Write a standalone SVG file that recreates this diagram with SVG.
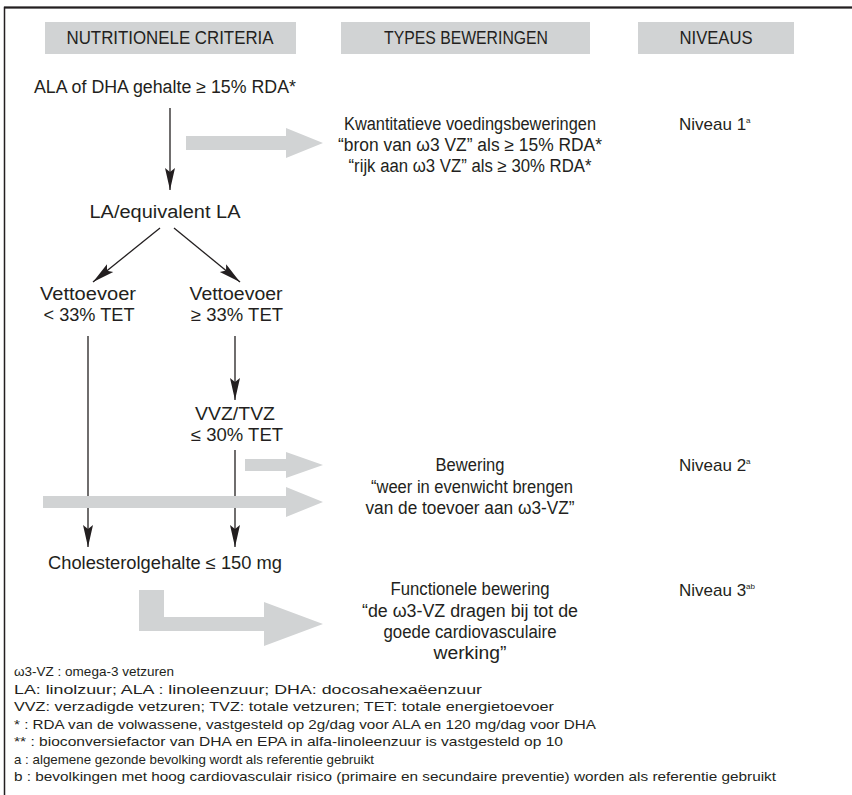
<svg xmlns="http://www.w3.org/2000/svg" width="852" height="795" viewBox="0 0 852 795">
<style>
text{font-family:"Liberation Sans",Arial,sans-serif;fill:#231f20;}
.t{font-size:18px;text-anchor:middle;}
.h{font-size:18px;text-anchor:middle;}
.nv{font-size:17px;}
.sp{font-size:8px;}
.f{font-size:13.5px;}
.hb{fill:#d1d3d4;}
.ln{stroke:#231f20;stroke-width:1.3;fill:none;}
.g{fill:#d1d3d4;}
</style>
<defs>
<marker id="ah" markerUnits="userSpaceOnUse" markerWidth="26" markerHeight="14" refX="22" refY="6" orient="auto" viewBox="0 0 26 12">
<path d="M0,1 L22,6 L0,11 L4,6 Z" fill="#231f20"/>
</marker>
</defs>
<rect x="4.5" y="7.5" width="1000" height="900" fill="none" stroke="#231f20" stroke-width="1.5"/>
<line x1="4" y1="7.5" x2="852" y2="7.5" stroke="#231f20" stroke-width="2"/>
<g id="headers">
<rect class="hb" x="45" y="22" width="251" height="32"/>
<rect class="hb" x="341" y="22" width="249" height="32"/>
<rect class="hb" x="638" y="22" width="156" height="32"/>
<text class="h" x="170" y="44" textLength="207" lengthAdjust="spacingAndGlyphs">NUTRITIONELE CRITERIA</text>
<text class="h" x="466" y="44" textLength="164" lengthAdjust="spacingAndGlyphs">TYPES BEWERINGEN</text>
<text class="h" x="716" y="44" textLength="73" lengthAdjust="spacingAndGlyphs">NIVEAUS</text>
</g>
<g id="connectors">
<line class="ln" x1="170" y1="108" x2="170" y2="190" marker-end="url(#ah)"/>
<line class="ln" x1="160" y1="228" x2="93" y2="282" marker-end="url(#ah)"/>
<line class="ln" x1="174" y1="228" x2="240" y2="282" marker-end="url(#ah)"/>
<line class="ln" x1="88" y1="336" x2="88" y2="547" marker-end="url(#ah)"/>
<line class="ln" x1="235" y1="336" x2="235" y2="400" marker-end="url(#ah)"/>
<line class="ln" x1="235" y1="450" x2="235" y2="547" marker-end="url(#ah)"/>
<polygon class="g" points="186,136 286,136 286,128 323,143 286,158 286,150 186,150"/>
<polygon class="g" points="245,459 286,459 286,452 323,465 286,478 286,471 245,471"/>
<polygon class="g" points="43,496 286,496 286,487 323,502 286,517 286,508 43,508"/>
<polygon class="g" points="139,590 164,590 164,617 264,617 264,602 323,624 264,646 264,631 139,631"/>
</g>
<g id="n1"><text class="t" x="165" y="93" textLength="262" lengthAdjust="spacingAndGlyphs">ALA of DHA gehalte ≥ 15% RDA*</text></g>
<g id="n2">
<text class="t" x="470" y="130" textLength="252" lengthAdjust="spacingAndGlyphs">Kwantitatieve voedingsbeweringen</text>
<text class="t" x="470" y="151" textLength="264" lengthAdjust="spacingAndGlyphs">“bron van ω3 VZ” als ≥ 15% RDA*</text>
<text class="t" x="470" y="172" textLength="243" lengthAdjust="spacingAndGlyphs">“rijk aan ω3 VZ” als ≥ 30% RDA*</text>
</g>
<g id="niv1"><text class="nv" x="679" y="130">Niveau 1<tspan class="sp" dy="-7">a</tspan></text></g>
<g id="n3"><text class="t" x="165" y="218" textLength="151" lengthAdjust="spacingAndGlyphs">LA/equivalent LA</text></g>
<g id="n4">
<text class="t" x="88" y="300" textLength="96" lengthAdjust="spacingAndGlyphs">Vettoevoer</text>
<text class="t" x="89" y="321" textLength="91" lengthAdjust="spacingAndGlyphs">&lt; 33% TET</text>
</g>
<g id="n5">
<text class="t" x="236" y="300" textLength="93" lengthAdjust="spacingAndGlyphs">Vettoevoer</text>
<text class="t" x="237" y="321" textLength="92" lengthAdjust="spacingAndGlyphs">≥ 33% TET</text>
</g>
<g id="n6">
<text class="t" x="235" y="420" textLength="80" lengthAdjust="spacingAndGlyphs">VVZ/TVZ</text>
<text class="t" x="237" y="441" textLength="92" lengthAdjust="spacingAndGlyphs">≤ 30% TET</text>
</g>
<g id="n7">
<text class="t" x="470" y="471" textLength="69" lengthAdjust="spacingAndGlyphs">Bewering</text>
<text class="t" x="472" y="493" textLength="202" lengthAdjust="spacingAndGlyphs">“weer in evenwicht brengen</text>
<text class="t" x="470" y="514" textLength="209" lengthAdjust="spacingAndGlyphs">van de toevoer aan ω3-VZ”</text>
</g>
<g id="niv2"><text class="nv" x="679" y="471">Niveau 2<tspan class="sp" dy="-7">a</tspan></text></g>
<g id="n8"><text class="t" x="165" y="569" textLength="234" lengthAdjust="spacingAndGlyphs">Cholesterolgehalte ≤ 150 mg</text></g>
<g id="n9">
<text class="t" x="470" y="595" textLength="159" lengthAdjust="spacingAndGlyphs">Functionele bewering</text>
<text class="t" x="470" y="617" textLength="216" lengthAdjust="spacingAndGlyphs">“de ω3-VZ dragen bij tot de</text>
<text class="t" x="470" y="638" textLength="173" lengthAdjust="spacingAndGlyphs">goede cardiovasculaire</text>
<text class="t" x="470" y="659" textLength="73" lengthAdjust="spacingAndGlyphs">werking”</text>
</g>
<g id="niv3"><text class="nv" x="679" y="596">Niveau 3<tspan class="sp" dy="-7">ab</tspan></text></g>
<g id="notes">
<text class="f" x="14" y="676" textLength="160" lengthAdjust="spacingAndGlyphs">ω3-VZ : omega-3 vetzuren</text>
<text class="f" x="14" y="693.5" textLength="468" lengthAdjust="spacingAndGlyphs">LA: linolzuur; ALA : linoleenzuur; DHA: docosahexaëenzuur</text>
<text class="f" x="14" y="711" textLength="540" lengthAdjust="spacingAndGlyphs">VVZ: verzadigde vetzuren; TVZ: totale vetzuren; TET: totale energietoevoer</text>
<text class="f" x="14" y="728.5" textLength="582" lengthAdjust="spacingAndGlyphs">* : RDA van de volwassene, vastgesteld op 2g/dag voor ALA en 120 mg/dag voor DHA</text>
<text class="f" x="14" y="746" textLength="549" lengthAdjust="spacingAndGlyphs">** : bioconversiefactor van DHA en EPA in alfa-linoleenzuur is vastgesteld op 10</text>
<text class="f" x="14" y="763.5" textLength="360" lengthAdjust="spacingAndGlyphs">a : algemene gezonde bevolking wordt als referentie gebruikt</text>
<text class="f" x="14" y="781" textLength="762" lengthAdjust="spacingAndGlyphs">b : bevolkingen met hoog cardiovasculair risico (primaire en secundaire preventie) worden als referentie gebruikt</text>
</g>
</svg>
